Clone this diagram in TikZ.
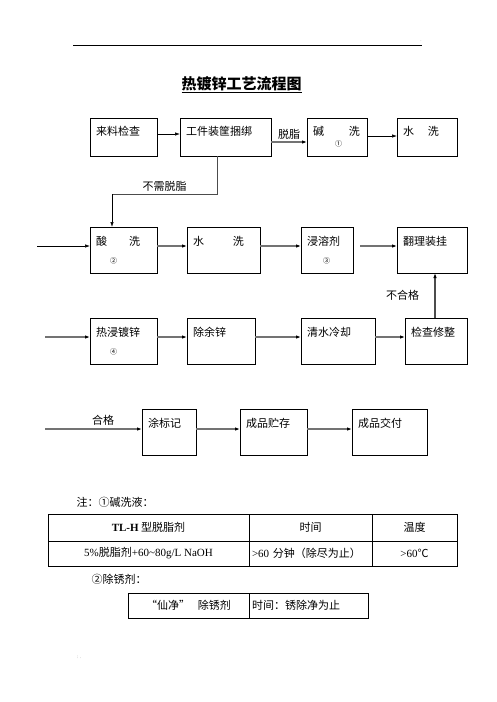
\documentclass[tikz,border=0pt]{standalone}
\usepackage{fontspec}
\setmainfont{Liberation Serif}
\newfontfamily\cjk{Noto Sans CJK SC}
\usetikzlibrary{arrows.meta}

\tikzset{
  box/.style={draw, line width=0.8pt, align=left, inner xsep=6pt, inner ysep=0pt, outer sep=0pt,
    font=\cjk\fontsize{11}{14}\selectfont},
  cell/.style={draw, line width=0.8pt, inner sep=0pt, outer sep=0pt, minimum height=#1,
    font=\cjk\fontsize{11}{13}\selectfont},
  blk/.style={-{Latex[length=5pt,width=3.5pt]}, line width=0.7pt},
  gry/.style={-{Latex[length=5pt,width=3.5pt,color=black]}, line width=1.3pt, draw=black!55},
  num/.style={font=\cjk\fontsize{7}{9}\selectfont},
}

\begin{document}
\begin{tikzpicture}[x=1pt,y=-1pt]
\useasboundingbox (0,0) rectangle (496,702);
\fill[white] (0,0) rectangle (496,702);

% header
\coordinate (hl) at (73,45);
\coordinate (hr) at (422,45);
\draw[line width=0.8pt] (hl) -- (hr);
\node[font=\tiny, text=black!40] (hdot) at (421,41) {.};
\node[font=\tiny, text=black!40] (fdot) at (79,657) {: .};
\node[font=\cjk\bfseries\fontsize{15}{18}\selectfont] (title) at (241.5,85) {\underline{热镀锌工艺流程图}};

% row 1
\node[box, minimum height=38pt, text width=55pt] (check) at (123.5,137) {来料检查\\[-6pt]\strut};
\node[box, minimum height=38pt, text width=79pt] (bind) at (225.5,137) {工件装筐捆绑\\[-6pt]\strut};
\node[box, minimum height=38pt, text width=48pt] (jian) at (337,137) {碱\hspace{25pt}洗\\[-3pt]\hspace*{22pt}{\fontsize{7}{9}\selectfont ①}};
\node[box, minimum height=38pt, text width=48pt] (shui1) at (427,137) {水\hspace{14pt}洗\\[-6pt]\strut};

% row 2
\node[box, minimum height=46pt, text width=55pt] (suan) at (123.5,250) {酸\hspace{22pt}洗\\[4pt]\hspace*{14pt}{\fontsize{7}{9}\selectfont ②}};
\node[box, minimum height=46pt, text width=61pt] (shui2) at (223.5,250) {水\hspace{29pt}洗\\\strut};
\node[box, minimum height=46pt, text width=40pt] (rongji) at (327,250) {浸溶剂\\[4pt]\hspace*{16pt}{\fontsize{7}{9}\selectfont ③}};
\node[box, minimum height=46pt, text width=58pt] (fanli) at (432,250) {翻理装挂\\\strut};

% row 3
\node[box, minimum height=46pt, text width=55pt] (redu) at (123.5,341) {热浸镀锌\\[4pt]\hspace*{14pt}{\fontsize{7}{9}\selectfont ④}};
\node[box, minimum height=46pt, text width=56pt] (chuyu) at (221,341) {除余锌\\\strut};
\node[box, minimum height=46pt, text width=62pt] (lengque) at (338,341) {清水冷却\\\strut};
\node[box, minimum height=46pt, text width=50pt] (xiuzheng) at (436,341) {检查修整\\\strut};

% row 4
\node[box, minimum height=46pt, text width=42pt] (biaoji) at (169,432) {涂标记\\\strut};
\node[box, minimum height=46pt, text width=55pt] (zhucun) at (273.5,432) {成品贮存\\\strut};
\node[box, minimum height=46pt, text width=63pt] (jiaofu) at (389.5,432) {成品交付\\\strut};

% free ends
\coordinate (in2) at (37,246);
\coordinate (in3) at (45,337);
\coordinate (in4) at (45,429);
\coordinate (turn1) at (217,194);
\coordinate (turn2) at (112,194);

% connectors
\path[draw,blk] ([yshift=3pt]check.east) -- ([yshift=3pt]bind.west);
\path[draw,gry] ([yshift=-5pt]bind.east) -- node[above=-1pt, font=\cjk\fontsize{11}{13}\selectfont] (tuozhi) {脱脂} ([yshift=-5pt]jian.west);
\path[draw,blk] ([yshift=1pt]jian.east) -- ([yshift=1pt]shui1.west);
\path[draw, line width=0.9pt, draw=black!70] ([xshift=-8.5pt]bind.south) -- (turn1)
  -- node[above=-1pt, font=\cjk\fontsize{11}{13}\selectfont] (buxu) {不需脱脂} (turn2);
\path[draw,blk] (turn2) -- (turn2 |- suan.north);

\path[draw,blk] (in2) -- (in2 -| suan.west);
\path[draw,gry] ([yshift=4pt]suan.east) -- ([yshift=4pt]shui2.west);
\path[draw,gry] ([yshift=4pt]shui2.east) -- ([yshift=4pt]rongji.west);
\path[draw,gry] ([xshift=7pt,yshift=4pt]rongji.east) -- ([yshift=4pt]fanli.west);

\path[draw,gry] (in3) -- (in3 -| redu.west);
\path[draw,gry] ([yshift=4pt]redu.east) -- ([yshift=4pt]chuyu.west);
\path[draw,gry] ([yshift=4pt]chuyu.east) -- ([yshift=4pt]lengque.west);
\path[draw,gry] ([yshift=4pt]lengque.east) -- ([yshift=4pt]xiuzheng.west);
\path[draw,gry,draw=black!70] ([xshift=-1pt]xiuzheng.north) -- ([xshift=-1pt]xiuzheng.north |- fanli.south)
  node[pos=0.5, left=12pt, font=\cjk\fontsize{11}{13}\selectfont] (buhege) {不合格};

\path[draw,gry] (in4) -- node[pos=0.6, above=0pt, font=\cjk\fontsize{11}{13}\selectfont] (hege) {合格} (in4 -| biaoji.west);
\path[draw,gry] ([yshift=3pt]biaoji.east) -- ([yshift=3pt]zhucun.west);
\path[draw,gry] ([yshift=3pt]zhucun.east) -- ([yshift=3pt]jiaofu.west);

% notes
\node[anchor=west, font=\cjk\fontsize{11}{13}\selectfont] (note1) at (73,502) {注：①碱洗液：};
\node[cell=27pt, minimum width=201pt] (t11) at (148.5,527.5) {{\rmfamily\bfseries TL-H} 型脱脂剂};
\node[cell=27pt, minimum width=123pt] (t12) at (310.5,527.5) {时间};
\node[cell=27pt, minimum width=85pt] (t13) at (414.5,527.5) {温度};
\node[cell=25pt, minimum width=201pt] (t21) at (148.5,553.5) {{\rmfamily 5\%}脱脂剂{\rmfamily +60\textasciitilde80g/L NaOH}};
\node[cell=25pt, minimum width=123pt, text width=117pt, align=left] (t22) at (310.5,553.5) {{\rmfamily >60} 分钟（除尽为止）};
\node[cell=25pt, minimum width=85pt] (t23) at (414.5,553.5) {{\rmfamily >60}℃};

\node[anchor=west, font=\cjk\fontsize{11}{13}\selectfont] (note2) at (88,579) {②除锈剂：};
\node[cell=25pt, minimum width=121pt] (s11) at (188.5,605.5) {“仙净”\hspace{8pt}除锈剂};
\node[cell=25pt, minimum width=119pt, text width=113pt, align=left] (s12) at (308.5,605.5) {时间：锈除净为止};
\end{tikzpicture}
\end{document}
